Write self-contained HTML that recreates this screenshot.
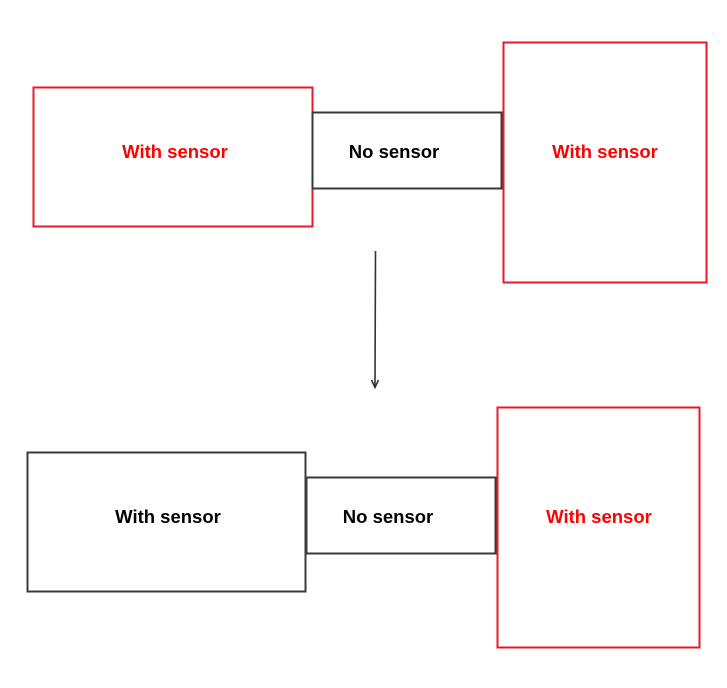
<!DOCTYPE html>
<html><head><meta charset="utf-8"><style>
html,body{margin:0;padding:0;background:#fff;width:727px;height:688px;overflow:hidden}
svg{display:block}
text{font-family:"Liberation Sans",sans-serif;font-weight:bold;font-size:18.5px;text-anchor:middle}
</style></head><body>
<svg width="727" height="688" viewBox="0 0 727 688">
<g fill="none" stroke-width="2">
<rect x="33.5" y="87.5" width="279" height="139" stroke="#e8192c"/>
<rect x="503.5" y="42.5" width="203" height="240" stroke="#e8192c"/>
<rect x="312.5" y="112.5" width="189" height="76" stroke="#3a3a3a"/>
<rect x="27.5" y="452.5" width="278" height="139" stroke="#3a3a3a"/>
<rect x="497.5" y="407.5" width="202" height="240" stroke="#e8192c"/>
<rect x="306.5" y="477.5" width="189" height="76" stroke="#3a3a3a"/>
</g>
<line x1="375.5" y1="251" x2="375" y2="386" stroke="#333" stroke-width="1.6"/>
<polyline points="371.5,380 375,387.5 378.5,380" fill="none" stroke="#333" stroke-width="1.6"/>
<text x="175" y="158" fill="#ff0000">With sensor</text>
<text x="394" y="158" fill="#000">No sensor</text>
<text x="605" y="158" fill="#ff0000">With sensor</text>
<text x="168" y="523" fill="#000">With sensor</text>
<text x="388" y="523" fill="#000">No sensor</text>
<text x="599" y="523" fill="#ff0000">With sensor</text>
</svg>
</body></html>
